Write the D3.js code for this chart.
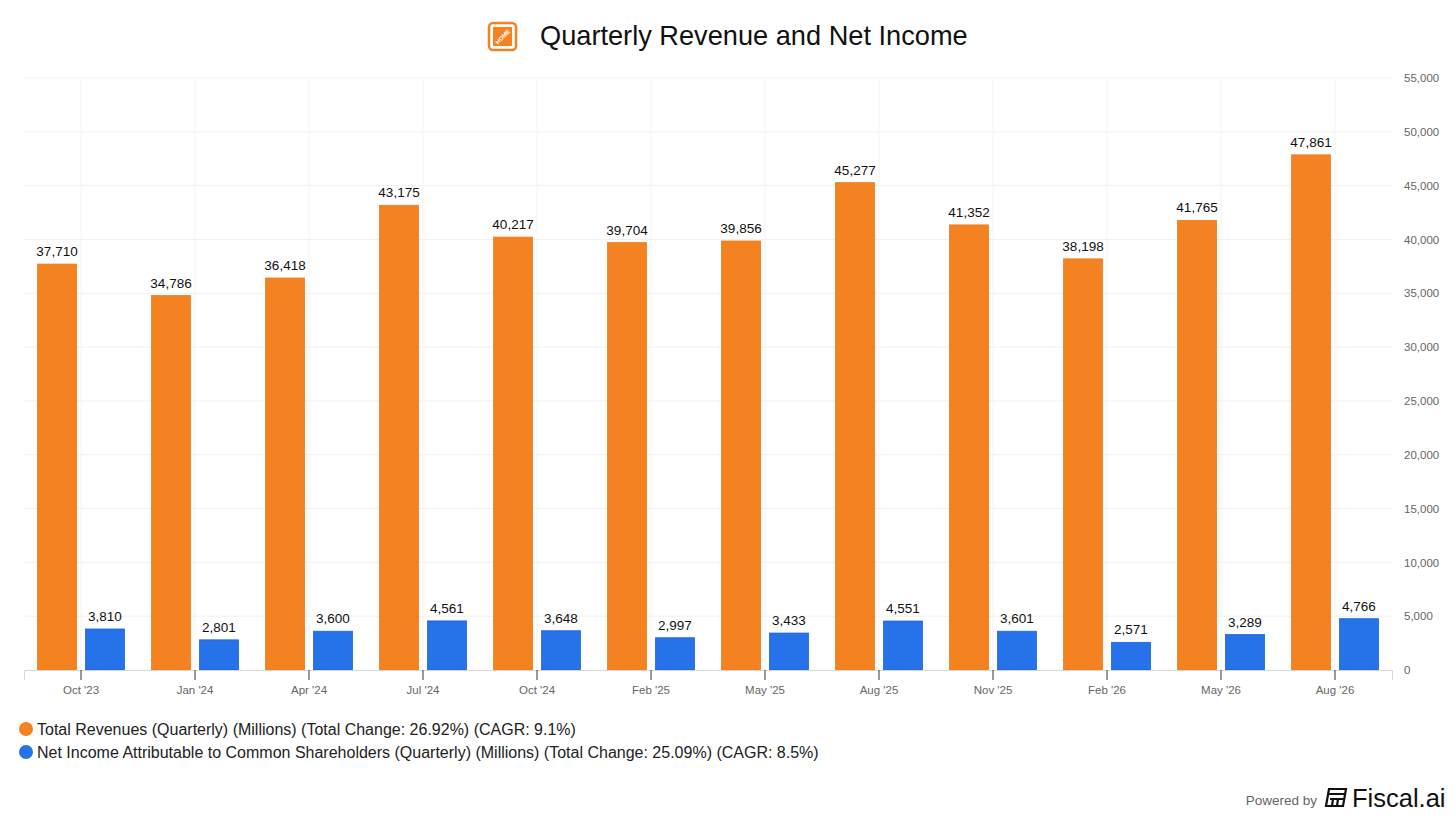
<!DOCTYPE html>
<html>
<head>
<meta charset="utf-8">
<script src="https://cdn.jsdelivr.net/npm/d3@7"></script>
<style>
  body { margin: 0; background: #fff; font-family: "Liberation Sans", Arial, sans-serif; overflow: hidden; }
  svg { display: block; }
</style>
</head>
<body>
<div id="chart"></div>
<script>
const categories = ["Oct '23", "Jan '24", "Apr '24", "Jul '24", "Oct '24", "Feb '25", "May '25", "Aug '25", "Nov '25", "Feb '26", "May '26", "Aug '26"];
const revenue = [37710, 34786, 36418, 43175, 40217, 39704, 39856, 45277, 41352, 38198, 41765, 47861];
const netIncome = [3810, 2801, 3600, 4561, 3648, 2997, 3433, 4551, 3601, 2571, 3289, 4766];
const yTicks = [0, 5000, 10000, 15000, 20000, 25000, 30000, 35000, 40000, 45000, 50000, 55000];
const legendLabels = [
  "Total Revenues (Quarterly) (Millions) (Total Change: 26.92%) (CAGR: 9.1%)",
  "Net Income Attributable to Common Shareholders (Quarterly) (Millions) (Total Change: 25.09%) (CAGR: 8.5%)"
];

const width = 1456, height = 819;
const margin = { top: 78, right: 64, bottom: 149, left: 24 };
const innerWidth = width - margin.left - margin.right;
const innerHeight = height - margin.top - margin.bottom;
const colors = ["#f58220", "#2672e8"];
const fmt = d3.format(",");

const svg = d3.select("#chart").append("svg")
  .attr("width", width)
  .attr("height", height);

// Title with logo
const title = svg.append("g");
title.append("rect")
  .attr("x", 489).attr("y", 23).attr("width", 27).attr("height", 27)
  .attr("rx", 4).attr("fill", "none").attr("stroke", "#f58220").attr("stroke-width", 2.5);
title.append("rect")
  .attr("x", 493).attr("y", 27).attr("width", 19).attr("height", 19)
  .attr("fill", "#f58220");
title.append("text")
  .attr("x", 502.5).attr("y", 39)
  .attr("text-anchor", "middle")
  .attr("transform", "rotate(-45,502.5,36.5)")
  .attr("font-size", 6).attr("font-weight", "bold").attr("fill", "#fff")
  .text("HOME");
title.append("text")
  .attr("x", 540).attr("y", 45)
  .attr("font-size", 27.2).attr("fill", "#111")
  .text("Quarterly Revenue and Net Income");

const g = svg.append("g").attr("transform", `translate(${margin.left},${margin.top})`);

const x0 = d3.scaleBand().domain(categories).range([0, innerWidth]).padding(0);
const y = d3.scaleLinear().domain([0, 55000]).range([innerHeight, 0]);

// Gridlines
g.append("g").selectAll("line").data(yTicks.slice(1)).join("line")
  .attr("x1", 0).attr("x2", innerWidth)
  .attr("y1", d => y(d)).attr("y2", d => y(d))
  .attr("stroke", "#f1f1f1");
g.append("g").selectAll("line").data(categories).join("line")
  .attr("x1", d => x0(d) + x0.bandwidth() / 2).attr("x2", d => x0(d) + x0.bandwidth() / 2)
  .attr("y1", 0).attr("y2", innerHeight)
  .attr("stroke", "#f3f3f3");

// Bars
const barW = 39, gap = 9;
const groups = g.append("g").selectAll("g").data(categories).join("g")
  .attr("transform", d => `translate(${x0(d) + x0.bandwidth() / 2},0)`);

groups.append("rect")
  .attr("x", -gap / 2 - barW)
  .attr("y", (d, i) => y(revenue[i]))
  .attr("width", barW)
  .attr("height", (d, i) => innerHeight - y(revenue[i]))
  .attr("fill", colors[0]).attr("stroke", "#ee7a18").attr("stroke-width", 0.8);

groups.append("rect")
  .attr("x", gap / 2)
  .attr("y", (d, i) => y(netIncome[i]))
  .attr("width", barW)
  .attr("height", (d, i) => innerHeight - y(netIncome[i]))
  .attr("fill", colors[1]).attr("stroke", "#1c64e0").attr("stroke-width", 0.8);

groups.append("text")
  .attr("x", -gap / 2 - barW / 2)
  .attr("y", (d, i) => y(revenue[i]) - 8)
  .attr("text-anchor", "middle").attr("font-size", 13.5).attr("fill", "#111")
  .text((d, i) => fmt(revenue[i]));

groups.append("text")
  .attr("x", gap / 2 + barW / 2)
  .attr("y", (d, i) => y(netIncome[i]) - 8)
  .attr("text-anchor", "middle").attr("font-size", 13.5).attr("fill", "#111")
  .text((d, i) => fmt(netIncome[i]));

// X axis
const xAxis = g.append("g")
  .attr("transform", `translate(0,${innerHeight})`)
  .call(d3.axisBottom(x0).tickSize(10).tickPadding(6));
xAxis.select(".domain").attr("stroke", "#d8d8d8");
xAxis.selectAll(".tick line").attr("stroke", "#555").attr("stroke-width", 1.2);
xAxis.selectAll("text").attr("font-size", 11.5).attr("fill", "#666").attr("font-family", "Liberation Sans, Arial, sans-serif");

// Y axis on the right
const yAxis = g.append("g")
  .attr("transform", `translate(${innerWidth},0)`)
  .call(d3.axisRight(y).tickValues(yTicks).tickFormat(fmt).tickSize(0).tickPadding(12));
yAxis.select(".domain").remove();
yAxis.selectAll("text").attr("font-size", 11.5).attr("fill", "#666").attr("font-family", "Liberation Sans, Arial, sans-serif");

// Legend
const legend = svg.append("g").selectAll("g").data(legendLabels).join("g")
  .attr("transform", (d, i) => `translate(26,${729 + i * 23})`);
legend.append("circle").attr("r", 7).attr("fill", (d, i) => colors[i]);
legend.append("text")
  .attr("x", 11).attr("y", 5.5)
  .attr("font-size", 16).attr("fill", "#222")
  .text(d => d);

// Footer
const footer = svg.append("g");
footer.append("text")
  .attr("x", 1317).attr("y", 805)
  .attr("text-anchor", "end")
  .attr("font-size", 13.5).attr("fill", "#666")
  .text("Powered by");
footer.append("path")
  .attr("d", "M1326,806 L1329,789 L1346,789 L1343,806 Z M1328,794 L1345,794 M1333,799 L1332,806 M1338,799 L1337,806 M1330,799 L1344,799")
  .attr("fill", "none").attr("stroke", "#111").attr("stroke-width", 2.2);
footer.append("text")
  .attr("x", 1352).attr("y", 807)
  .attr("font-size", 25.5).attr("fill", "#111")
  .text("Fiscal.ai");
</script>
</body>
</html>
